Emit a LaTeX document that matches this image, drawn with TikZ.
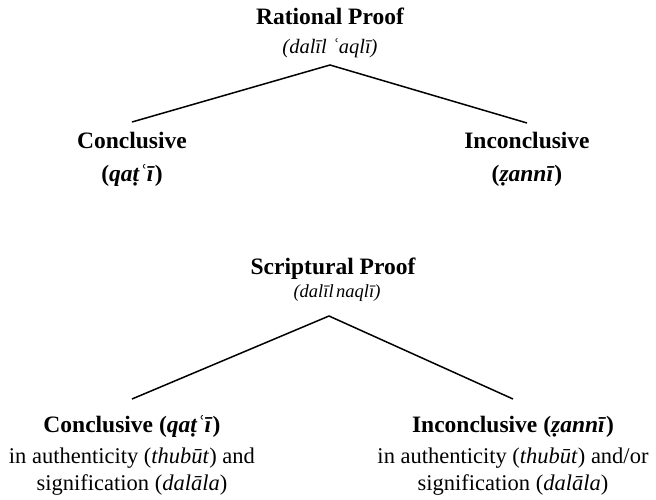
\documentclass[tikz,border=0pt]{standalone}
\usepackage{fontspec}
\setmainfont{Liberation Serif}
\begin{document}
\begin{tikzpicture}[x=1pt,y=-1pt,
  head/.style={anchor=base,inner sep=0pt,font=\fontsize{23.5}{28}\selectfont\bfseries},
  sub/.style={anchor=base,inner sep=0pt,font=\fontsize{20.5}{24}\selectfont\itshape},
  gloss/.style={anchor=base,inner sep=0pt,font=\fontsize{22.5}{27}\selectfont},
  branch/.style={line width=1.5pt}]
\useasboundingbox[fill=white] (0,0) rectangle (656,499);
% Rational proof tree
\node[head] (rp) at (330,24) {Rational Proof};
\node[sub] (rps) at (330,53) {(dalīl ʿaqlī)};
\coordinate (a1) at (330,65);
\coordinate (c1top) at (132,122);
\coordinate (i1top) at (527,123);
\node[head] (c1) at (132,148) {Conclusive};
\node[head] (c1s) at (132,181) {(\textit{qaṭʿī})};
\node[head] (i1) at (527,148) {Inconclusive};
\node[head] (i1s) at (527,181) {(\textit{ẓannī})};
\draw[branch] (c1top) -- (a1) -- (i1top);
% Scriptural proof tree
\node[head] (sp) at (333,274) {Scriptural Proof};
\node[sub,font=\fontsize{18.5}{22}\selectfont\itshape] (sps) at (337,297) {(dalīl\hspace{0.14em}naqlī)};
\coordinate (a2) at (329,316);
\coordinate (c2top) at (132,399);
\coordinate (i2top) at (513,399);
\node[head] (c2) at (132,432) {Conclusive (\textit{qaṭʿī})};
\node[gloss] (c2a) at (132,463) {in authenticity (\textit{thubūt}) and};
\node[gloss] (c2b) at (132,490) {signification (\textit{dalāla})};
\node[head] (i2) at (513,432) {Inconclusive (\textit{ẓannī})};
\node[gloss] (i2a) at (513,463) {in authenticity (\textit{thubūt}) and/or};
\node[gloss] (i2b) at (513,490) {signification (\textit{dalāla})};
\draw[branch] (c2top) -- (a2) -- (i2top);
\end{tikzpicture}
\end{document}
